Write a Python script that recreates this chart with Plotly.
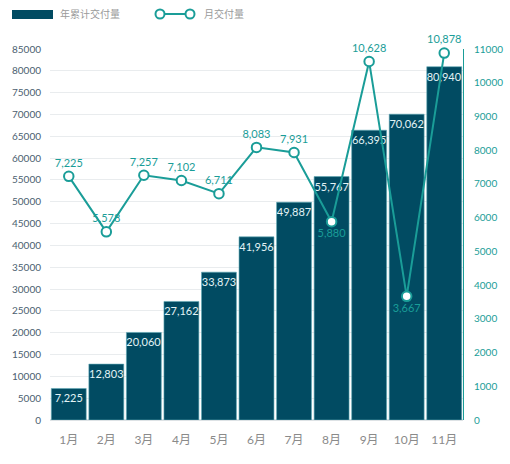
import plotly.graph_objects as go

months = ['1月', '2月', '3月', '4月', '5月', '6月', '7月', '8月', '9月', '10月', '11月']
cumulative = [7225, 12803, 20060, 27162, 33873, 41956, 49887, 55767, 66395, 70062, 80940]
monthly = [7225, 5578, 7257, 7102, 6711, 8083, 7931, 5880, 10628, 3667, 10878]

BAR = '#014b62'
LINE = '#1a9d98'
W, H = 510, 464
L, R, T, B = 50, 47, 49, 44

def px(x):
    return (x - L) / (W - L - R)

def py(y):
    return (H - B - y) / (H - T - B)

fmt = lambda v: f'{v:,}'
pos = ['bottom center' if m in ('8月', '10月') else 'top center' for m in months]

fig = go.Figure()
fig.add_trace(go.Bar(
    x=months, y=cumulative, name='年累计交付量',
    marker=dict(color=BAR, line=dict(color='#5fa9b6', width=0.6)),
    text=[fmt(v) for v in cumulative], textposition='inside',
    insidetextanchor='end', textangle=0,
    textfont=dict(color='#e3f3f5', size=11),
))
fig.add_trace(go.Scatter(
    x=months, y=monthly, name='月交付量', yaxis='y2',
    mode='lines+markers+text',
    line=dict(color=LINE, width=2),
    marker=dict(size=9.5, color='white', line=dict(color=LINE, width=2)),
    text=[fmt(v) for v in monthly], textposition=pos,
    textfont=dict(color=LINE, size=11), cliponaxis=False,
))

fig.update_layout(
    width=W, height=H, margin=dict(l=L, r=R, t=T, b=B),
    paper_bgcolor='white', plot_bgcolor='white',
    font=dict(family='Lato, Noto Sans CJK SC', size=10),
    showlegend=False, bargap=0.07,
    uniformtext=dict(mode='show', minsize=11),
    xaxis=dict(range=[-0.5, len(months) - 0.5], tickfont=dict(color='#8a8a8a', size=12),
               ticks='', showline=False, ticklabelstandoff=11, automargin=False),
    yaxis=dict(range=[0, 85000], dtick=5000, showgrid=True, gridcolor='#e9ecee',
               zeroline=True, zerolinecolor='#dde2e5', tickformat='d',
               tickfont=dict(color='#4b6070', size=10), ticklabelstandoff=8,
               automargin=False),
    yaxis2=dict(range=[0, 11000], dtick=1000, overlaying='y', side='right',
                showgrid=False, zeroline=False, showline=True, linecolor=LINE,
                tickformat='d', tickfont=dict(color=LINE, size=10),
                ticklabelstandoff=8, automargin=False),
)

# legend drawn by hand
fig.add_shape(type='rect', xref='paper', yref='paper',
              x0=px(12), x1=px(53), y0=py(19), y1=py(10),
              fillcolor=BAR, line=dict(width=0))
fig.add_shape(type='line', xref='paper', yref='paper',
              x0=px(160), x1=px(190), y0=py(14), y1=py(14),
              line=dict(color=LINE, width=2))
for cx in (160, 190):
    fig.add_shape(type='circle', xref='paper', yref='paper',
                  x0=px(cx - 4.5), x1=px(cx + 4.5), y0=py(18.5), y1=py(9.5),
                  fillcolor='white', line=dict(color=LINE, width=2))
fig.add_annotation(text='年累计交付量', xref='paper', yref='paper', x=px(58), y=py(14),
                   xanchor='left', yanchor='middle', showarrow=False,
                   font=dict(color='#9a9a9a', size=10))
fig.add_annotation(text='月交付量', xref='paper', yref='paper', x=px(202), y=py(14),
                   xanchor='left', yanchor='middle', showarrow=False,
                   font=dict(color='#9a9a9a', size=10))

fig.write_html('out.html', config={'displayModeBar': False},
               post_script="document.body.style.margin='0px';")
